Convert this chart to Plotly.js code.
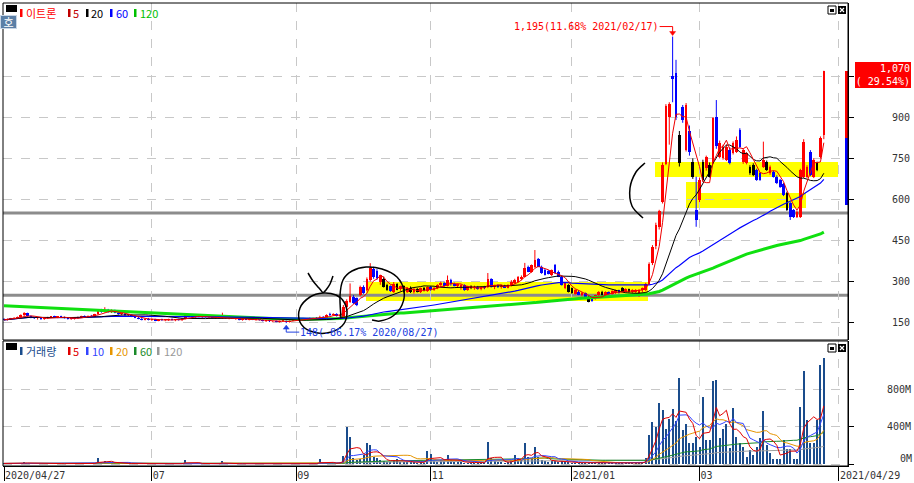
<!DOCTYPE html>
<html><head><meta charset="utf-8">
<script src="https://cdn.plot.ly/plotly-3.0.1.min.js"></script>
<style>html,body{margin:0;padding:0;background:#fff}#chart{width:914px;height:483px}</style>
</head><body><div id="chart"></div>
<script>
// ---------------- DATA ----------------
const stockName = '이트론';
const openP = [162,160,163,165,166,170,176,184,174,168, 165,166,162,165,169,171,170,172,169,166, 163,164,165,170,173,171,174,172,180,192, 189,197,188,195,186,180,183,176,178,172, 168,164,160,164,160,162,157,161,158,160, 162,159,161,158,164,176,172,170,174,171, 173,169,171,167,170,166,170,165,168,164, 166,160,163,161,164,160,163,158,156,158, 154,156,153,155,157,151,157,160,162,164, 161,165,163,167,165,172,168,178,176,182,
175,168,208,226,244,238,251,281,270,306, 345,340,300,311,287,282,262,290,272,282, 262,278,260,272,262,275,266,279,270,276, 286,296,285,305,290,284,280,287,270,282, 275,280,273,280,280,308,281,286,280,284, 278,285,295,300,310,318,354,336,354,381, 354,342,338,324,360,336,318,275,287,275, 255,262,250,258,245,240,238,250,262,250, 260,255,258,268,275,263,272,262,262,258, 268,268,292,366,430,500,590,730,900,1050,
1062,835,937,781,850,738,561,598,738,714, 726,732,900,756,750,744,781,768,774,854, 735,732,720,726,707,695,720,738,695,700, 683,670,655,622,586,561,537,537,683,683, 774,682,732,756,835];
const highP = [166,165,167,170,172,180,188,186,176,171, 169,168,167,171,174,175,174,175,172,169, 167,168,172,175,176,176,178,182,196,200, 206,200,198,197,190,186,185,180,180,175, 171,168,166,167,165,164,163,164,163,164, 165,163,164,166,184,180,175,176,177,175, 176,173,174,172,173,186,172,170,171,168, 168,165,166,166,167,165,165,162,160,160, 158,158,157,158,158,158,162,164,166,167, 166,168,168,170,175,174,180,186,184,184,
180,214,235,293,250,242,285,286,315,367, 354,345,325,318,292,286,298,294,285,286, 280,282,276,276,278,280,282,284,280,290, 300,300,322,310,296,292,290,290,284,286, 285,284,282,284,331,312,288,290,287,288, 290,305,310,320,322,368,358,362,415,386, 358,346,342,344,364,340,322,296,290,278, 272,268,262,260,248,244,252,265,266,264, 264,268,270,270,280,275,274,272,272,272, 278,295,370,433,515,562,735,948,955,1195,
1110,850,945,952,870,750,683,680,745,760, 735,900,963,815,800,800,790,812,830,860, 785,772,725,732,712,700,811,742,724,705, 688,675,660,628,590,565,560,712,820,725, 780,750,738,830,1070];
const lowP = [158,157,160,162,164,168,172,172,166,163, 161,160,160,163,166,167,166,168,165,161, 160,161,163,167,169,168,170,170,178,186, 187,186,185,184,178,176,174,172,170,166, 162,158,158,158,156,155,155,156,155,156, 157,155,157,156,162,170,166,168,169,167, 168,165,166,164,165,164,164,162,163,160, 158,157,159,158,159,157,157,154,152,152, 151,151,150,152,148,150,155,157,159,160, 159,161,161,163,164,166,167,174,174,172,
170,165,205,222,218,210,246,255,265,300, 310,306,288,278,266,262,258,268,266,260, 258,258,256,260,258,264,262,266,266,272, 280,282,282,285,282,278,270,266,266,272, 270,270,268,272,276,278,272,276,274,276, 275,282,290,296,305,315,334,332,350,352, 328,322,326,320,328,316,285,272,260,255, 252,250,246,240,224,226,234,246,248,246, 252,252,255,256,262,260,260,258,258,244, 262,264,288,360,418,490,585,725,800,955,
890,720,880,775,760,675,500,590,665,705, 680,728,785,750,745,740,728,764,770,788, 730,728,690,685,668,668,715,704,690,680, 656,642,612,558,525,532,532,532,678,678, 685,678,703,750,820];
const closeP = [160,163,165,166,170,176,184,174,168,165, 166,162,165,169,171,170,172,169,166,163, 164,165,170,173,171,174,172,180,192,189, 197,188,195,186,180,183,176,178,172,168, 164,160,164,160,162,157,161,158,160,162, 159,161,158,164,176,172,170,174,171,173, 169,171,167,170,166,170,165,168,164,166, 160,163,161,164,160,163,158,156,158,154, 156,153,155,156,151,157,160,162,164,161, 165,163,167,165,172,168,178,176,182,175,
178,208,230,246,222,215,281,257,311,348, 316,312,323,281,269,264,292,270,282,262, 278,260,272,262,275,266,279,270,276,286, 296,285,305,290,284,290,287,270,282,275, 280,273,280,276,311,281,286,280,284,278, 288,300,305,315,318,348,336,360,379,354, 330,324,328,342,330,318,287,293,263,257, 269,252,258,242,226,230,250,262,250,260, 255,265,268,258,263,272,262,270,269,270, 275,292,364,425,505,556,725,940,948,1040,
900,733,890,945,775,683,525,671,671,756, 683,896,795,805,793,793,732,805,817,793, 780,768,695,689,671,671,744,707,720,683, 660,646,616,561,537,537,555,707,811,720, 689,744,707,826,1070];
// candles drawn black in the reference
const blackCandles = [113,114,117,119,121,123,125,139,168,169,174,178,184,186,201,205,208,210,222,223,227,233,242];
// volume in millions of shares
const volumeM = [6,5,4,5,6,12,20,10,6,5, 4,5,4,6,5,4,5,4,3,4, 4,5,4,6,5,4,5,8,60,25, 30,15,12,8,6,5,4,4,5,4, 3,4,3,4,3,3,4,3,3,4, 3,3,4,5,45,12,6,5,4,4, 3,4,3,4,3,35,6,4,3,3, 3,3,3,3,3,3,3,3,3,3, 4,3,3,4,8,5,4,3,4,3, 3,4,3,5,50,6,8,10,12,8,
20,85,400,290,60,40,50,100,220,200, 70,60,40,35,25,20,45,55,25,20, 22,18,20,15,18,16,138,107,30,25, 40,30,96,40,20,18,22,15,14,15, 14,12,15,14,234,60,30,20,18,15, 20,40,96,60,40,224,80,60,181,70, 40,30,25,30,35,25,30,20,18,15, 14,12,12,15,14,10,12,14,10,12, 10,9,10,20,12,10,9,10,12,15, 20,60,
309,448,398,654,576,377,480,590,462,917, 362,427,228,228,284,178,718,256,256,889, 896,277,377,427,171,597,284,228,178,78, 149,96,178,274,569,199,114,57,57,50, 256,156,164,57,57,612,996,469,220,220, 469,1056,1130];
const ma120ReadIdx = [0,10,20,30,40,50,60,70,80,90,100,110,118];
const ma120ReadVal = [211,205,199,193,186,180,175,170,165,162,165,177,185];
const xTickIdx = [0,44,87,127,169,207,248.5];
const xTickText = ['2020/04/27','07','09','11','2021/01','03','2021/04/29'];
const priceTicks = [150,300,450,600,750,900,1050];
const priceTickText = ['150','300','450','600','750','900',''];
const volTicks = [0,400,800];
const volTickText = ['0M','400M','800M'];
const supportLevels = [250,550];
const extremeDates = {high:'2021/02/17', low:'2020/08/27'};
const priceMaLabels = ['5','20','60','120'];
const volMaLabels = ['5','10','20','60','120'];

// ---------------- GEOMETRY ----------------
const W = 914, H = 483, M = {l:3, r:66, t:3, b:17};
const PW = W - M.l - M.r, PH = H - M.t - M.b;
const px = x => (x - M.l) / PW;
const py = y => (H - M.b - y) / PH;
const xRange = [-0.298, 251.19];
const priceRange = [86.3, 1317.6];
const volRange = [-21.3, 1312];

// ---------------- HELPERS ----------------
function sma(arr, n) {
  return arr.map((_, i) => { const s = Math.max(0, i - n + 1); let t = 0; for (let k = s; k <= i; k++) t += arr[k]; return t / (i - s + 1); });
}
const N = closeP.length;
const idx = closeP.map((_, i) => i);
const fmt = v => v.toLocaleString('en-US');

const traces = [];
const blackSet = new Set(blackCandles);
const groups = {red: [], blue: [], black: []};
idx.forEach(i => {
  const g = blackSet.has(i) ? 'black' : (closeP[i] >= openP[i] ? 'red' : 'blue');
  groups[g].push(i);
});
const cCol = {red: '#ff0000', blue: '#0000ff', black: '#000000'};
for (const g of ['red', 'blue', 'black']) {
  const ids = groups[g];
  const wx = [], wy = [];
  ids.forEach(i => { wx.push(i, i, null); wy.push(lowP[i], highP[i], null); });
  traces.push({type: 'scatter', mode: 'lines', x: wx, y: wy, xaxis: 'x', yaxis: 'y', line: {color: cCol[g], width: 1}, hoverinfo: 'skip'});
  traces.push({type: 'bar', x: ids, base: ids.map(i => Math.min(openP[i], closeP[i])),
    y: ids.map(i => Math.max(Math.abs(closeP[i] - openP[i]), 3.5)), width: 0.8,
    marker: {color: cCol[g], line: {width: 0}}, xaxis: 'x', yaxis: 'y', hoverinfo: 'skip'});
}
// price moving averages
const ma120Full = sma(closeP, 120);
traces.push({type: 'scatter', mode: 'lines', x: ma120ReadIdx.concat(idx.slice(119)), y: ma120ReadVal.concat(ma120Full.slice(119)),
  line: {color: '#10e010', width: 3}, xaxis: 'x', yaxis: 'y', hoverinfo: 'skip'});
traces.push({type: 'scatter', mode: 'lines', x: idx, y: sma(closeP, 60), line: {color: '#0000ff', width: 1.2}, xaxis: 'x', yaxis: 'y', hoverinfo: 'skip'});
traces.push({type: 'scatter', mode: 'lines', x: idx, y: sma(closeP, 20), line: {color: '#000000', width: 1}, xaxis: 'x', yaxis: 'y', hoverinfo: 'skip'});
traces.push({type: 'scatter', mode: 'lines', x: idx, y: sma(closeP, 5), line: {color: '#ee0000', width: 1}, xaxis: 'x', yaxis: 'y', hoverinfo: 'skip'});

// daily limit range bar on the axis
const last = closeP[N - 1], prev = closeP[N - 2];
const axisMarkX = 250.7;
traces.push({type: 'bar', x: [axisMarkX], base: [prev * 0.7], y: [prev - prev * 0.7], width: 1.05, marker: {color: '#0000ff'}, xaxis: 'x', yaxis: 'y', hoverinfo: 'skip'});
traces.push({type: 'bar', x: [axisMarkX], base: [prev], y: [last - prev], width: 1.05, marker: {color: '#ff0000'}, xaxis: 'x', yaxis: 'y', hoverinfo: 'skip'});
traces.push({type: 'scatter', mode: 'markers', x: [252.5], y: [last], cliponaxis: false,
  marker: {symbol: 'triangle-left', size: 9, color: '#ff0000'}, xaxis: 'x', yaxis: 'y', hoverinfo: 'skip'});

// volume
traces.push({type: 'bar', x: idx, y: volumeM, width: 0.6, marker: {color: '#1a4c8c', line: {width: 0}}, xaxis: 'x', yaxis: 'y2', hoverinfo: 'skip'});
const vCols = ['#e00000', '#3344ff', '#e69500', '#1a8a2a', '#a0a0a0'];
[5, 10, 20, 60, 120].slice().reverse().forEach((n, k) => {
  const c = vCols[4 - k];
  traces.push({type: 'scatter', mode: 'lines', x: idx, y: sma(volumeM, n), line: {color: c, width: 1}, xaxis: 'x', yaxis: 'y2', hoverinfo: 'skip'});
});

// ---------------- SHAPES ----------------
const shapes = [];
function rectPx(x0, y0, x1, y1, fill, lineColor, layer, lw) {
  shapes.push({type: 'rect', xref: 'paper', yref: 'paper', x0: px(x0), x1: px(x1), y0: py(y1), y1: py(y0),
    fillcolor: fill, line: {color: lineColor || 'rgba(0,0,0,0)', width: lineColor ? (lw || 1) : 0}, layer: layer || 'above'});
}
function smoothPx(pts, closed) {
  const P = pts.map(p => [px(p[0]), py(p[1])]);
  const n = P.length;
  const get = i => closed ? P[(i + n) % n] : P[Math.max(0, Math.min(n - 1, i))];
  let d = 'M ' + P[0][0].toFixed(5) + ',' + P[0][1].toFixed(5);
  const segs = closed ? n : n - 1;
  for (let i = 0; i < segs; i++) {
    const p0 = get(i - 1), p1 = get(i), p2 = get(i + 1), p3 = get(i + 2);
    const c1 = [p1[0] + (p2[0] - p0[0]) / 6, p1[1] + (p2[1] - p0[1]) / 6];
    const c2 = [p2[0] - (p3[0] - p1[0]) / 6, p2[1] - (p3[1] - p1[1]) / 6];
    d += ' C ' + [c1, c2, p2].map(c => c[0].toFixed(5) + ',' + c[1].toFixed(5)).join(' ');
  }
  return d;
}
function stroke(pts, closed, w) {
  shapes.push({type: 'path', xref: 'paper', yref: 'paper', path: smoothPx(pts, closed), line: {color: '#000', width: w || 1.5}, layer: 'above'});
}
// yellow highlights (user drawing)
rectPx(366, 282, 648, 301, '#ffff00', null, 'between');
rectPx(655, 162, 838, 177, '#ffff00', null, 'between');
rectPx(686, 182, 700, 208, '#ffff00', null, 'between');
rectPx(700, 193, 806, 208, '#ffff00', null, 'between');
// horizontal support lines
supportLevels.forEach(v => shapes.push({type: 'line', xref: 'paper', yref: 'y', x0: 0, x1: 1, y0: v, y1: v, line: {color: '#8c8c8c', width: 3}, layer: 'between'}));
// panel frames
rectPx(3, 3, 848, 340, 'rgba(0,0,0,0)', '#000', 'above');
rectPx(3, 341, 848, 466, 'rgba(0,0,0,0)', '#000', 'above');
// hand drawn marks
stroke([[323,293],[310,297],[300,308],[300,322],[310,331],[327,333],[342,326],[347,314],[344,302],[336,295]], true);
stroke([[308,273],[313,281],[319,288],[323,293]], false);
stroke([[333,276],[330,284],[326,290],[323,293]], false);
stroke([[341,318],[340,296],[343,280],[352,271],[366,267],[382,269],[397,277],[404,291],[402,305],[393,316],[380,321],[372,320]], false);
stroke([[645,163],[636,172],[630,188],[632,206],[643,218]], false);
// window icons
function icons(y0) {
  rectPx(6, y0 - 1, 17, y0 + 6, '#000', null, 'above');
  rectPx(828, y0, 836, y0 + 8, '#fff', '#000', 'above');
  rectPx(830, y0 + 3, 834, y0 + 6, '#000', null, 'above');
  rectPx(838, y0, 846, y0 + 8, '#000', null, 'above');
  shapes.push({type: 'path', xref: 'paper', yref: 'paper', layer: 'above', line: {color: '#fff', width: 1.2},
    path: `M ${px(840)},${py(y0 + 2)} L ${px(844)},${py(y0 + 6)} M ${px(844)},${py(y0 + 2)} L ${px(840)},${py(y0 + 6)}`});
}
icons(6); icons(344);

// ---------------- ANNOTATIONS ----------------
const annotations = [];
const KR = "'Noto Sans CJK KR', 'DejaVu Sans', sans-serif";
const MONO = "'DejaVu Sans Mono', 'Liberation Mono', monospace";
function label(x, y, text, color, size, family) {
  annotations.push({xref: 'paper', yref: 'paper', x: px(x), y: py(y), xanchor: 'left', yanchor: 'middle', text, showarrow: false,
    borderpad: 0, borderwidth: 0, font: {family: family || KR, size: size || 11, color}});
}
function legendItem(barX, textX, y, text, color) {
  rectPx(barX, y - 4, barX + 2.5, y + 4, color, null, 'above');
  label(textX, y, text, color);
}
// price header
legendItem(20, 26, 13, stockName, '#ff0000');
const pCols = ['#c00000', '#000000', '#0000ff', '#00c000'];
[[68, 73], [86, 91], [110, 116], [134, 140]].forEach((p, k) => legendItem(p[0], p[1], 13, priceMaLabels[k], pCols[k]));
// volume header
legendItem(20, 26, 351, '거래량', '#1a4c8c');
const vHeadCols = ['#e00000', '#3344ff', '#e69500', '#1a8a2a', '#999999'];
[[68, 73], [86, 92], [110, 116], [134, 140], [157, 164]].forEach((p, k) => legendItem(p[0], p[1], 351, volMaLabels[k], vHeadCols[k]));
// "호" button
annotations.push({xref: 'paper', yref: 'paper', x: px(0), y: py(15), xanchor: 'left', yanchor: 'top', width: 15, height: 12,
  text: '호', showarrow: false, bgcolor: '#5b7fa6', bordercolor: '#c8d6e6', borderwidth: 1, borderpad: 0, font: {family: KR, size: 11, color: '#fff'}});

// extremes
let hiI = 0, loI = 0;
idx.forEach(i => { if (highP[i] > highP[hiI]) hiI = i; if (lowP[i] < lowP[loI]) loI = i; });
const pctOf = v => ((v - last) / last * 100).toFixed(2);
annotations.push({xref: 'x', yref: 'y', x: hiI, y: highP[hiI], xanchor: 'right', yanchor: 'middle', xshift: -14, yshift: 10,
  text: `${fmt(highP[hiI])}(${pctOf(highP[hiI])}% ${extremeDates.high})`, showarrow: false, borderpad: 0, borderwidth: 0,
  font: {family: MONO, size: 10, color: '#ff0000'}});
shapes.push({type: 'path', xref: 'x', yref: 'y', xsizemode: 'pixel', ysizemode: 'pixel', xanchor: hiI, yanchor: highP[hiI],
  path: 'M -13,10 L 0,10 L 0,3', line: {color: '#ff0000', width: 1}, layer: 'above'});
shapes.push({type: 'path', xref: 'x', yref: 'y', xsizemode: 'pixel', ysizemode: 'pixel', xanchor: hiI, yanchor: highP[hiI],
  path: 'M -3,5 L 3,5 L 0,1 Z', fillcolor: '#ff0000', line: {color: '#ff0000', width: 0.5}, layer: 'above'});
annotations.push({xref: 'x', yref: 'y', x: loI, y: lowP[loI], xanchor: 'left', yanchor: 'middle', xshift: 14, yshift: -9,
  text: `${fmt(lowP[loI])}(${pctOf(lowP[loI])}% ${extremeDates.low})`, showarrow: false, borderpad: 0, borderwidth: 0,
  font: {family: MONO, size: 10, color: '#2040e0'}});
shapes.push({type: 'path', xref: 'x', yref: 'y', xsizemode: 'pixel', ysizemode: 'pixel', xanchor: loI, yanchor: lowP[loI],
  path: 'M 0,-5 L 0,-9 L 13,-9', line: {color: '#2040e0', width: 1}, layer: 'above'});
shapes.push({type: 'path', xref: 'x', yref: 'y', xsizemode: 'pixel', ysizemode: 'pixel', xanchor: loI, yanchor: lowP[loI],
  path: 'M -3,-6 L 3,-6 L 0,-2 Z', fillcolor: '#2040e0', line: {color: '#2040e0', width: 0.5}, layer: 'above'});

// current price box
const chg = (last - prev) / prev * 100;
annotations.push({xref: 'paper', yref: 'y', x: px(855), y: last, xanchor: 'left', yanchor: 'top', yshift: 9, align: 'right',
  width: 54, text: `${fmt(last)}<br>(${chg >= 0 ? ' ' : '-'}${Math.abs(chg).toFixed(2)}%)`, showarrow: false,
  bgcolor: '#ff0000', borderpad: 1, borderwidth: 0, font: {family: MONO, size: 10, color: '#fff'}});

// bottom volume label sits above its tick (as in the reference), the others are centred on theirs
const tickFont = {family: MONO, size: 10, color: '#333'};
annotations.push({xref: 'paper', yref: 'y2', x: 1, y: volTicks[0], xanchor: 'right', yanchor: 'bottom', xshift: 64, yshift: 0,
  text: volTickText[0], showarrow: false, borderpad: 0, borderwidth: 0, font: tickFont});
const volTickShown = volTickText.map((t, k) => k === 0 ? '' : t);

// ---------------- LAYOUT ----------------
const layout = {
  width: W, height: H, margin: {l: M.l, r: M.r, t: M.t, b: M.b, pad: 0},
  paper_bgcolor: '#fff', plot_bgcolor: '#fff', showlegend: false, barmode: 'overlay', bargap: 0,
  font: {family: MONO, size: 10, color: '#333'},
  xaxis: {domain: [0, 1], range: xRange, anchor: 'y2', tickmode: 'array', tickvals: xTickIdx, ticktext: xTickText,
    ticks: 'outside', ticklen: 14, tickcolor: '#000', tickwidth: 1, ticklabelposition: 'outside right', ticklabelstandoff: 0,
    showgrid: true, gridcolor: '#c8c8c8', griddash: 'dash', gridwidth: 1, showline: true, linecolor: '#000', linewidth: 1,
    zeroline: false, tickfont: tickFont, fixedrange: true},
  yaxis: {domain: [py(340), 1], range: priceRange, side: 'right', anchor: 'x', tickmode: 'array', tickvals: priceTicks, ticktext: priceTickText,
    ticks: 'outside', ticklen: 5, tickcolor: '#000', ticklabelstandoff: 36, showgrid: true, gridcolor: '#c8c8c8', griddash: 'dash',
    showline: true, linecolor: '#000', linewidth: 1, zeroline: false, tickfont: tickFont, fixedrange: true},
  yaxis2: {domain: [0, py(341)], range: volRange, side: 'right', anchor: 'x', tickmode: 'array', tickvals: volTicks, ticktext: volTickShown,
    ticks: 'outside', ticklen: 5, tickcolor: '#000', ticklabelstandoff: 31, showgrid: true, gridcolor: '#c8c8c8', griddash: 'dash',
    showline: true, linecolor: '#000', linewidth: 1, zeroline: false, tickfont: tickFont, fixedrange: true},
  shapes, annotations
};
Plotly.newPlot('chart', traces, layout, {staticPlot: true, displayModeBar: false});
</script></body></html>
